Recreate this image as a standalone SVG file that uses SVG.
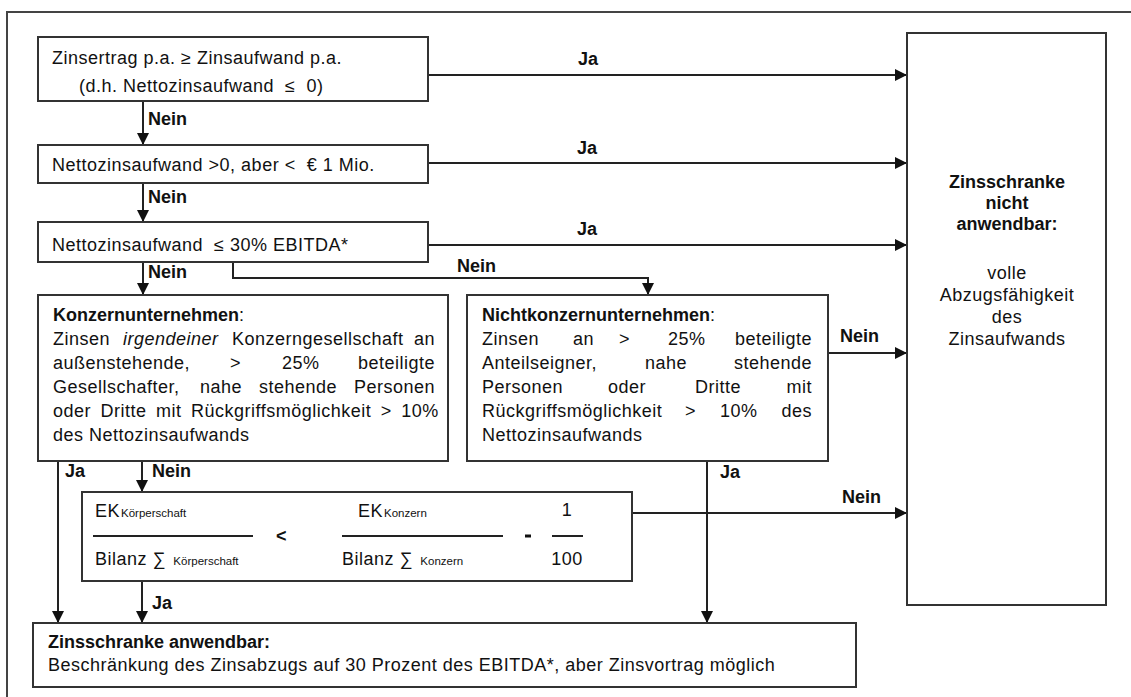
<svg xmlns="http://www.w3.org/2000/svg" width="1131" height="697" viewBox="0 0 1131 697">
<style>
text{font-family:"Liberation Sans",Arial,sans-serif;font-size:18px;fill:#111;letter-spacing:0.5px;white-space:pre}
.b{font-weight:bold;letter-spacing:0}
.sub{font-size:11.5px;letter-spacing:0}
.box{fill:#fff;stroke:#333;stroke-width:2}
.ln{fill:none;stroke:#222;stroke-width:2}
.end{text-anchor:end}
.mid{text-anchor:middle}
</style>
<defs>
<marker id="ah" markerUnits="userSpaceOnUse" markerWidth="12" markerHeight="12" refX="12" refY="6" orient="auto">
<path d="M0,0 L12,6 L0,12 z" fill="#111"/>
</marker>
</defs>
<rect x="7" y="12" width="1300" height="800" fill="#fff" stroke="#444" stroke-width="2"/>

<g id="connectors">
<line class="ln" x1="428" y1="75" x2="907" y2="75" marker-end="url(#ah)"/>
<line class="ln" x1="428" y1="163" x2="907" y2="163" marker-end="url(#ah)"/>
<line class="ln" x1="428" y1="245" x2="907" y2="245" marker-end="url(#ah)"/>
<line class="ln" x1="143" y1="101" x2="143" y2="145" marker-end="url(#ah)"/>
<line class="ln" x1="143" y1="183" x2="143" y2="222" marker-end="url(#ah)"/>
<line class="ln" x1="143" y1="262" x2="143" y2="295" marker-end="url(#ah)"/>
<polyline class="ln" points="233,262 233,278 648,278 648,295" marker-end="url(#ah)"/>
<line class="ln" x1="828" y1="353" x2="907" y2="353" marker-end="url(#ah)"/>
<line class="ln" x1="58" y1="461" x2="58" y2="623" marker-end="url(#ah)"/>
<line class="ln" x1="142" y1="461" x2="142" y2="492" marker-end="url(#ah)"/>
<line class="ln" x1="142" y1="581" x2="142" y2="623" marker-end="url(#ah)"/>
<line class="ln" x1="707" y1="461" x2="707" y2="623" marker-end="url(#ah)"/>
<line class="ln" x1="627" y1="513" x2="907" y2="513" marker-end="url(#ah)"/>
<text class="b" x="578" y="65">Ja</text>
<text class="b" x="577" y="154">Ja</text>
<text class="b" x="577" y="235">Ja</text>
<text class="b" x="148" y="125">Nein</text>
<text class="b" x="148" y="203">Nein</text>
<text class="b" x="148" y="278">Nein</text>
<text class="b" x="457" y="272">Nein</text>
<text class="b" x="840" y="342">Nein</text>
<text class="b" x="842" y="503">Nein</text>
<text class="b" x="65" y="477">Ja</text>
<text class="b" x="152" y="477">Nein</text>
<text class="b" x="720" y="478">Ja</text>
<text class="b" x="152" y="609">Ja</text>
</g>

<g id="node-ertrag">
<rect class="box" x="38" y="37" width="390" height="64"/>
<text x="52" y="64">Zinsertrag p.a. ≥ Zinsaufwand p.a.</text>
<text x="79" y="92">(d.h. Nettozinsaufwand  ≤  0)</text>
</g>

<g id="node-mio">
<rect class="box" x="38" y="145" width="390" height="38"/>
<text x="52" y="171">Nettozinsaufwand &gt;0, aber &lt;  € 1 Mio.</text>
</g>

<g id="node-ebitda">
<rect class="box" x="38" y="222" width="390" height="40"/>
<text x="52" y="251">Nettozinsaufwand  ≤ 30% EBITDA*</text>
</g>

<g id="node-nicht-anwendbar">
<rect class="box" x="907" y="33" width="199" height="572"/>
<text class="b mid" x="1007" y="188">Zinsschranke</text>
<text class="b mid" x="1007" y="209">nicht</text>
<text class="b mid" x="1007" y="230">anwendbar:</text>
<text class="mid" x="1007" y="279">volle</text>
<text class="mid" x="1007" y="301">Abzugsfähigkeit</text>
<text class="mid" x="1007" y="323">des</text>
<text class="mid" x="1007" y="345">Zinsaufwands</text>
</g>

<g id="node-konzern">
<rect class="box" x="38" y="295" width="410" height="166"/>
<text x="53" y="321"><tspan class="b">Konzernunternehmen</tspan>:</text>
<text y="345"><tspan x="53">Zinsen</tspan><tspan x="123" font-style="italic">irgendeiner</tspan><tspan x="232">Konzerngesellschaft</tspan></text>
<text class="end" x="435" y="345">an</text>
<text y="369"><tspan x="53">außenstehende,</tspan><tspan x="230">&gt;</tspan><tspan x="282">25%</tspan></text>
<text class="end" x="435" y="369">beteiligte</text>
<text y="393"><tspan x="53">Gesellschafter,</tspan><tspan x="200">nahe</tspan><tspan x="259">stehende</tspan></text>
<text class="end" x="435" y="393">Personen</text>
<text x="53" y="417" word-spacing="4">oder Dritte mit Rückgriffsmöglichkeit &gt; 10%</text>
<text x="53" y="441">des Nettozinsaufwands</text>
</g>

<g id="node-nichtkonzern">
<rect class="box" x="467" y="295" width="361" height="166"/>
<text x="482" y="321"><tspan class="b">Nichtkonzernunternehmen</tspan>:</text>
<text y="345"><tspan x="482">Zinsen</tspan><tspan x="573">an</tspan><tspan x="619">&gt;</tspan><tspan x="668">25%</tspan></text>
<text class="end" x="812" y="345">beteiligte</text>
<text y="369"><tspan x="482">Anteilseigner,</tspan><tspan x="645">nahe</tspan></text>
<text class="end" x="812" y="369">stehende</text>
<text y="393"><tspan x="482">Personen</tspan><tspan x="608">oder</tspan><tspan x="695">Dritte</tspan></text>
<text class="end" x="812" y="393">mit</text>
<text y="417"><tspan x="482">Rückgriffsmöglichkeit</tspan><tspan x="685">&gt;</tspan><tspan x="720">10%</tspan></text>
<text class="end" x="812" y="417">des</text>
<text x="482" y="441">Nettozinsaufwands</text>
</g>

<g id="node-ek">
<rect class="box" x="82" y="492" width="550" height="89"/>
<text x="95" y="517">EK<tspan class="sub" dx="1">Körperschaft</tspan></text>
<line class="ln" x1="93" y1="536" x2="253" y2="536"/>
<text class="b" x="276" y="542">&lt;</text>
<text x="95" y="565">Bilanz ∑ <tspan class="sub" dx="2">Körperschaft</tspan></text>
<text x="358" y="517">EK<tspan class="sub" dx="1">Konzern</tspan></text>
<line class="ln" x1="342" y1="536" x2="503" y2="536"/>
<text x="342" y="565">Bilanz ∑ <tspan class="sub" dx="2">Konzern</tspan></text>
<line x1="525" y1="536" x2="531" y2="536" stroke="#111" stroke-width="3"/>
<text class="mid" x="567" y="516">1</text>
<line class="ln" x1="552" y1="536" x2="583" y2="536"/>
<text class="mid" x="567" y="565">100</text>
</g>

<g id="node-anwendbar">
<rect class="box" x="33" y="623" width="823" height="64"/>
<text class="b" x="48" y="648">Zinsschranke anwendbar:</text>
<text x="48" y="671">Beschränkung des Zinsabzugs auf 30 Prozent des EBITDA*, aber Zinsvortrag möglich</text>
</g>
</svg>
